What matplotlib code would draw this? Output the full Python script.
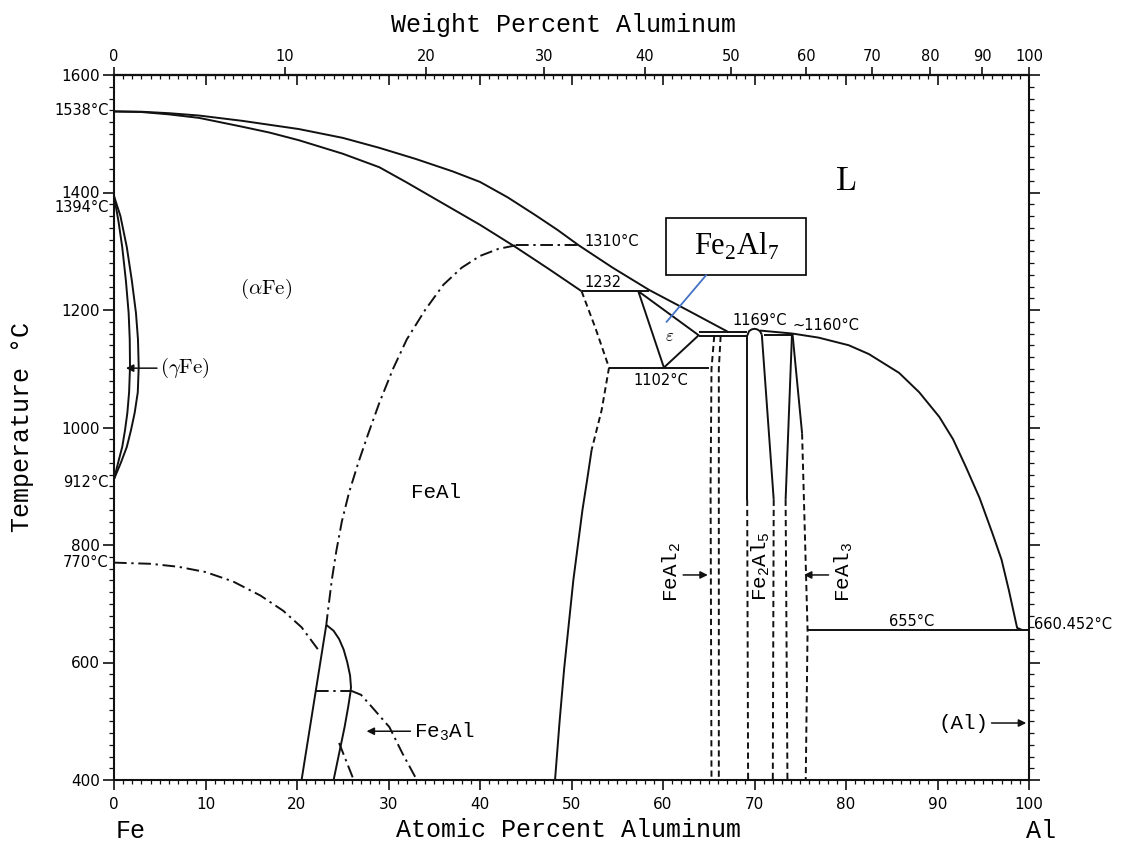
import numpy as np
import matplotlib
matplotlib.use('Agg')
import matplotlib.pyplot as plt
from matplotlib.ticker import MultipleLocator
from matplotlib.patches import Rectangle

# ---------------- data (atomic % Al, temperature degC) ----------------
liq_left_x = [0, 3, 6, 9.3, 14, 20.2, 25, 29, 33, 37, 40, 43, 46, 48.5, 50.8, 54.5, 58.5, 63, 67.2]
liq_left_T = [1538, 1537.5, 1535, 1531, 1522, 1508, 1493, 1476, 1457, 1436, 1418, 1392, 1362, 1336, 1310, 1272, 1234, 1197, 1162]
sol_left_x = [0, 3, 6, 9.3, 14, 17, 20.2, 25, 29, 32, 35, 38, 40, 43.9, 47.5, 51.1]
sol_left_T = [1538, 1537, 1533, 1527, 1512, 1502, 1489, 1466, 1443, 1417, 1390, 1363, 1345, 1307, 1270, 1232]
liq_right_x = [74.1, 77, 80.3, 82.5, 85.8, 88, 90.2, 91.7, 93.1, 94.6, 96.0, 97.0, 97.8, 98.7, 99.3]
liq_right_T = [1160, 1153, 1140, 1125, 1093, 1060, 1018, 980, 933, 880, 820, 775, 723, 659, 655]
liq_mid_x = [70.6, 72.0, 74.1]
liq_mid_T = [1165, 1163, 1160]

gam_in_x = [0, 0.5, 0.9, 1.3, 1.6, 1.72, 1.75, 1.65, 1.46, 1.2, 0.9, 0.45, 0]
gam_in_T = [1394, 1350, 1307, 1250, 1195, 1150, 1103, 1060, 1025, 995, 967, 940, 912]
gam_out_x = [0, 0.7, 1.4, 1.95, 2.4, 2.62, 2.7, 2.6, 2.26, 1.85, 1.4, 0.75, 0]
gam_out_T = [1394, 1360, 1307, 1250, 1195, 1150, 1103, 1060, 1025, 995, 967, 940, 912]

eps_x = [51.1, 58.5]           # 1232 horizontal
eps_T = [1232, 1232]
eps_tri_x = [57.3, 60.1, 63.9, 57.3]
eps_tri_T = [1232, 1102, 1157, 1232]
h1102_x = [54.1, 65.0]
h1102_T = [1102, 1102]
hdouble_x = [63.9, 69.2]
hdouble_T1 = [1162, 1162]
hdouble_T2 = [1156, 1156]
h1160_x = [71.0, 74.2]
h1160_T = [1157, 1157]
eut655_x = [75.8, 100]
eut655_T = [655, 655]

feal_dash_x = [51.1, 52.6, 54.1, 53.3, 52.2]
feal_dash_T = [1232, 1170, 1102, 1030, 962]
feal_sol_x = [52.2, 51.7, 51.2, 50.7, 50.2, 49.7, 49.2, 48.7, 48.2]
feal_sol_T = [962, 910, 860, 800, 740, 665, 590, 500, 400]

feal2_a_x = [65.6, 65.3, 65.2, 65.3]
feal2_a_T = [1156, 1100, 900, 400]
feal2_b_x = [66.3, 66.1, 66.1, 66.1]
feal2_b_T = [1156, 1100, 900, 400]

fe2al5_bulb_x = [69.2, 69.4, 69.7, 70.0, 70.3, 70.6, 70.8]
fe2al5_bulb_T = [1156, 1164, 1167, 1168, 1167, 1164, 1158]
fe2al5_l_sol_x = [69.2, 69.2]
fe2al5_l_sol_T = [1156, 877]
fe2al5_l_dash_x = [69.2, 69.3]
fe2al5_l_dash_T = [877, 400]
fe2al5_r_sol_x = [70.8, 72.1]
fe2al5_r_sol_T = [1158, 877]
fe2al5_r_dash_x = [72.1, 72.0]
fe2al5_r_dash_T = [877, 400]

feal3_l_sol_x = [74.1, 73.4]
feal3_l_sol_T = [1160, 877]
feal3_l_dash_x = [73.4, 73.6]
feal3_l_dash_T = [877, 400]
feal3_r_sol_x = [74.15, 75.2]
feal3_r_sol_T = [1160, 990]
feal3_r_dash_x = [75.2, 75.8, 75.6]
feal3_r_dash_T = [990, 655, 400]

order_x = [43.9, 42, 40, 38, 36, 34, 32, 30.5, 29, 27.8, 26.7, 25.7, 24.9, 24.3, 23.8, 23.4, 23.2]
order_T = [1310, 1304, 1292, 1272, 1243, 1200, 1150, 1100, 1042, 990, 940, 890, 840, 790, 740, 690, 664]
h1310_x = [43.9, 50.8]
h1310_T = [1310, 1310]
curie_x = [0, 4, 7, 10, 13, 16, 18.5, 20.5, 22.4]
curie_T = [770, 768, 763, 754, 738, 714, 688, 660, 620]

fe3al_l_x = [20.5, 23.2]
fe3al_l_T = [400, 664]
fe3al_r_x = [23.2, 24.0, 24.6, 25.1, 25.5, 25.8, 25.9, 25.85, 25.6, 25.2, 24.8, 24.4, 24.0]
fe3al_r_T = [664, 654, 640, 622, 600, 578, 558, 550, 525, 490, 460, 430, 400]
h552_x = [22.1, 25.9]
h552_T = [552, 552]
dd1_x = [25.9, 27.0, 28.2, 30.1, 31.5, 33.1]
dd1_T = [552, 545, 524, 490, 446, 400]
dd2_x = [24.6, 26.2]
dd2_T = [463, 400]

left_labels = ['1538°C', '1394°C', '912°C', '770°C']
left_label_T = [1540, 1374, 907, 770]

# ---------------------------------------------------------------------
def at2wt(a):
    a = np.clip(np.asarray(a, float), 0, 100)
    return 100 * a * 26.98 / (a * 26.98 + (100 - a) * 55.845)

def wt2at(w):
    w = np.clip(np.asarray(w, float), 0, 100)
    return 100 * (w / 26.98) / (w / 26.98 + (100 - w) / 55.845)

fig = plt.figure(figsize=(11.32, 8.43), dpi=100)
ax = fig.add_axes([114 / 1132, 63 / 843, 915 / 1132, 705 / 843])
ax.set_xlim(0, 100)
ax.set_ylim(400, 1600)

K = '#111111'
LW = 1.4
SOLID = '-'
DASH = (0, (3.2, 2.0))
DD = (0, (6.5, 2.4, 1.2, 2.4))

def L(x, T, ls=SOLID, lw=LW, c=K):
    ax.plot(x, T, color=c, lw=lw, ls=ls, solid_capstyle='butt',
            solid_joinstyle='round', zorder=2)

L(liq_left_x, liq_left_T)
L(sol_left_x, sol_left_T)
L(liq_right_x, liq_right_T)
L(liq_mid_x, liq_mid_T)
L(gam_in_x, gam_in_T)
L(gam_out_x, gam_out_T)
L(eps_x, eps_T)
L(eps_tri_x, eps_tri_T)
L(h1102_x, h1102_T)
L(hdouble_x, hdouble_T1)
L(hdouble_x, hdouble_T2)
L(h1160_x, h1160_T)
L(eut655_x, eut655_T)
L(feal_dash_x, feal_dash_T, DASH)
L(feal_sol_x, feal_sol_T)
L(feal2_a_x, feal2_a_T, DASH)
L(feal2_b_x, feal2_b_T, DASH)
L(fe2al5_bulb_x, fe2al5_bulb_T)
L(fe2al5_l_sol_x, fe2al5_l_sol_T)
L(fe2al5_l_dash_x, fe2al5_l_dash_T, DASH)
L(fe2al5_r_sol_x, fe2al5_r_sol_T)
L(fe2al5_r_dash_x, fe2al5_r_dash_T, DASH)
L(feal3_l_sol_x, feal3_l_sol_T)
L(feal3_l_dash_x, feal3_l_dash_T, DASH)
L(feal3_r_sol_x, feal3_r_sol_T)
L(feal3_r_dash_x, feal3_r_dash_T, DASH)
L(order_x, order_T, DD)
L(h1310_x, h1310_T, DD)
L(curie_x, curie_T, DD)
L(fe3al_l_x, fe3al_l_T)
L(fe3al_r_x, fe3al_r_T)
L(h552_x, h552_T, DD)
L(dd1_x, dd1_T, DD)
L(dd2_x, dd2_T, DD)

# ---------------- axes / ticks ----------------
for s in ax.spines.values():
    s.set_linewidth(1.5)
    s.set_color(K)

ax.xaxis.set_major_locator(MultipleLocator(10))
ax.xaxis.set_minor_locator(MultipleLocator(1))
ax.yaxis.set_major_locator(MultipleLocator(200))
ax.yaxis.set_minor_locator(MultipleLocator(20))
ax.tick_params(axis='x', which='both', bottom=True, top=False, direction='out', color=K)
ax.tick_params(axis='x', which='major', length=7, width=1.2, labelsize=11, pad=5)
ax.tick_params(axis='x', which='minor', length=3, width=0.9)
ax.tick_params(axis='y', which='both', left=True, right=True, direction='out', color=K)
ax.tick_params(axis='y', which='major', length=8, width=1.2, labelsize=11, pad=2)
ax.tick_params(axis='y', which='minor', length=3.5, width=0.9)
for lab in ax.get_xticklabels() + ax.get_yticklabels():
    lab.set_family('DejaVu Sans')

sec_at = ax.secondary_xaxis('top')
sec_at.xaxis.set_major_locator(MultipleLocator(10))
sec_at.xaxis.set_minor_locator(MultipleLocator(1))
sec_at.tick_params(which='both', direction='in', labeltop=False, color=K)
sec_at.tick_params(which='major', length=7, width=1.2)
sec_at.tick_params(which='minor', length=3, width=0.9)
sec_at.spines['top'].set_linewidth(1.5)

sec_wt = ax.secondary_xaxis('top', functions=(at2wt, wt2at))
sec_wt.set_xticks(list(range(0, 101, 10)))
sec_wt.xaxis.set_minor_locator(plt.NullLocator())
sec_wt.tick_params(which='major', direction='out', length=6, width=1.2, labelsize=10.5, pad=2, color=K)
sec_wt.spines['top'].set_linewidth(1.5)

MONO = 'Liberation Mono'
SERIF = 'Liberation Serif'
SANS = 'DejaVu Sans'

fig.text(0.498, 1 - 25 / 843, 'Weight Percent Aluminum', family=MONO, fontsize=18,
         ha='center', va='center')
fig.text(0.502, 1 - 830 / 843, 'Atomic Percent Aluminum', family=MONO, fontsize=18,
         ha='center', va='center')
fig.text(22 / 1132, 1 - 427 / 843, 'Temperature °C', family=MONO, fontsize=18,
         rotation=90, ha='center', va='center')
fig.text(131 / 1132, 1 - 831 / 843, 'Fe', family=MONO, fontsize=18, ha='center', va='center')
fig.text(1041 / 1132, 1 - 831 / 843, 'Al', family=MONO, fontsize=18, ha='center', va='center')

for lab, T in zip(left_labels, left_label_T):
    ax.text(-0.6, T, lab, family=SANS, fontsize=10.5, ha='right', va='center', clip_on=False)
ax.text(100.5, 665, '660.452°C', family=SANS, fontsize=10.5, ha='left', va='center', clip_on=False)

# ---------------- in-plot labels ----------------
ax.text(80.0, 1420, r'$\mathrm{L}$', math_fontfamily='cm', fontsize=24, ha='center', va='center')
ax.text(16.6, 1236, r'$(\alpha\mathrm{Fe})$', math_fontfamily='cm', fontsize=15,
        ha='center', va='center')
ax.text(5.0, 1101, r'$(\gamma\mathrm{Fe})$', math_fontfamily='cm', fontsize=15,
        ha='left', va='center')
ax.annotate('', xy=(1.0, 1101), xytext=(5.0, 1101),
            arrowprops=dict(arrowstyle='-|>', color=K, lw=1.1, mutation_scale=11))
ax.text(35.2, 890, 'FeAl', family=MONO, fontsize=15, ha='center', va='center')
ax.text(60.7, 1155, r'$\varepsilon$', math_fontfamily='cm', fontsize=12, ha='center', va='center')

ax.text(51.4, 1317, '1310°C', family=SANS, fontsize=10.5, ha='left', va='center')
ax.text(51.4, 1247, '1232', family=SANS, fontsize=10.5, ha='left', va='center')
ax.text(59.8, 1080, '1102°C', family=SANS, fontsize=10.5, ha='center', va='center')
ax.text(70.6, 1182, '1169°C', family=SANS, fontsize=10.5, ha='center', va='center')
ax.text(77.8, 1173, '~1160°C', family=SANS, fontsize=10.5, ha='center', va='center')
ax.text(87.2, 670, '655°C', family=SANS, fontsize=10.5, ha='center', va='center')

ax.text(60.9, 754, 'FeAl$_\\mathregular{2}$', family=MONO, fontsize=15, rotation=90,
        ha='center', va='center')
ax.text(70.7, 764, 'Fe$_\\mathregular{2}$Al$_\\mathregular{5}$', family=MONO, fontsize=15,
        rotation=90, ha='center', va='center')
ax.text(79.7, 754, 'FeAl$_\\mathregular{3}$', family=MONO, fontsize=15, rotation=90,
        ha='center', va='center')
ax.annotate('', xy=(65.2, 749), xytext=(61.9, 749),
            arrowprops=dict(arrowstyle='-|>', color=K, lw=1.1, mutation_scale=11))
ax.annotate('', xy=(75.1, 749), xytext=(78.4, 749),
            arrowprops=dict(arrowstyle='-|>', color=K, lw=1.1, mutation_scale=11))

ax.text(32.8, 483, 'Fe$_\\mathregular{3}$Al', family=MONO, fontsize=15, ha='left', va='center')
ax.annotate('', xy=(27.3, 483), xytext=(32.7, 483),
            arrowprops=dict(arrowstyle='-|>', color=K, lw=1.1, mutation_scale=11))
ax.text(95.6, 497, '(Al)', family=MONO, fontsize=15, ha='right', va='center')
ax.annotate('', xy=(100, 497), xytext=(95.6, 497),
            arrowprops=dict(arrowstyle='-|>', color=K, lw=1.1, mutation_scale=11))

# Fe2Al7 call-out box
ax.add_patch(Rectangle((60.3, 1260), 15.3, 97, fc='white', ec='black', lw=1.2, zorder=5))
ax.text(68.0, 1309, 'Fe$_\\mathregular{2}$Al$_\\mathregular{7}$', family=SERIF, fontsize=22,
        ha='center', va='center', zorder=6)
ax.plot([64.7, 60.4], [1259, 1180], color='#4472C4', lw=1.3, zorder=6)

fig.savefig('out.png', dpi=100)
